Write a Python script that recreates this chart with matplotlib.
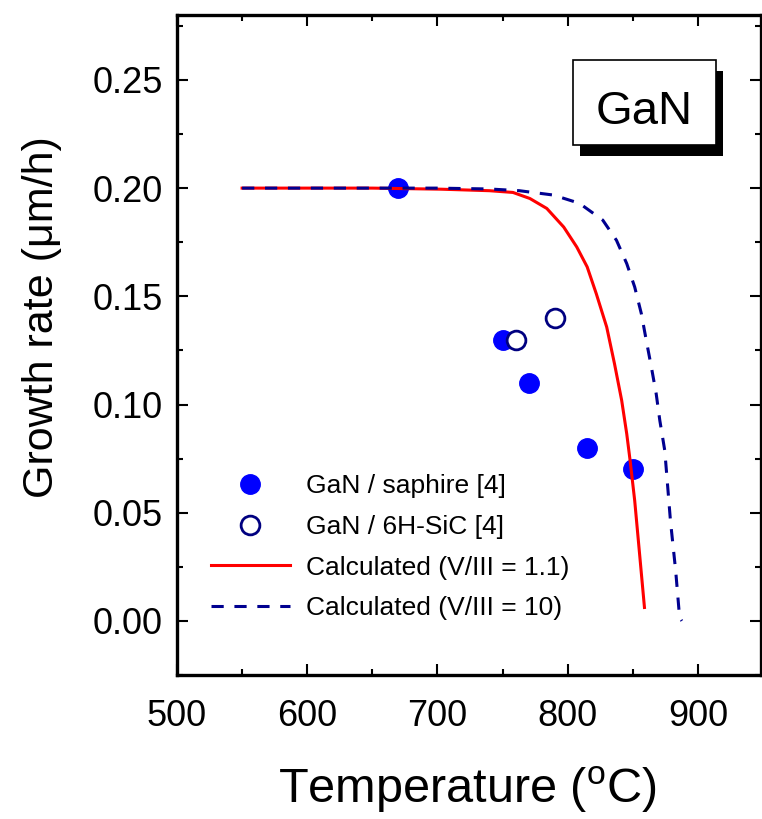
import numpy as np
import matplotlib
matplotlib.use("Agg")
import matplotlib.pyplot as plt
from matplotlib.ticker import MultipleLocator
from matplotlib.patches import Rectangle

plt.rcParams['font.family'] = ['Liberation Sans', 'DejaVu Sans']
plt.rcParams['mathtext.fontset'] = 'custom'
plt.rcParams['mathtext.rm'] = 'Liberation Sans'
plt.rcParams['mathtext.it'] = 'Liberation Sans:italic'

# measured points
sapphire_T = [670, 750, 770, 815, 850]
sapphire_rate = [0.200, 0.130, 0.110, 0.080, 0.070]
sic_T = [760, 790]
sic_rate = [0.130, 0.140]

# calculated curves
calc11_T = [550, 600, 650, 703, 740, 758, 771, 784, 797, 807, 815, 822, 830,
            836, 841.5, 845.4, 848, 851.5, 855.5, 859]
calc11_rate = [0.200, 0.200, 0.200, 0.1995, 0.1988, 0.198, 0.1952, 0.1906,
               0.182, 0.1728, 0.1636, 0.1512, 0.1358, 0.1188, 0.1019, 0.0864,
               0.074, 0.0556, 0.0293, 0.0062]
calc10_T = [550, 600, 650, 700, 740, 763, 789, 809, 827, 837.5, 845.4, 851.5,
            856.6, 860.4, 864.3, 868, 870.8, 874.6, 879, 883, 886, 887.7]
calc10_rate = [0.200, 0.200, 0.200, 0.200, 0.1996, 0.1988, 0.1968, 0.193,
               0.1852, 0.1759, 0.1651, 0.1543, 0.142, 0.1296, 0.1173, 0.105,
               0.0926, 0.0787, 0.046, 0.023, 0.0015, 0.0]

fig = plt.figure(figsize=(7.62, 8.19), dpi=100)
ax = fig.add_axes([177 / 762, 144 / 819, 584 / 762, 660 / 819])

ax.plot(sapphire_T, sapphire_rate, 'o', color='#0000ff', markersize=14,
        label='GaN / saphire [4]', zorder=2)
ax.plot(sic_T, sic_rate, 'o', markerfacecolor='white', markeredgecolor='#000080',
        markeredgewidth=2, markersize=13.5, label='GaN / 6H-SiC [4]', zorder=2.5)
ax.plot(calc11_T, calc11_rate, '-', color='#ff0000', linewidth=2.2,
        label='Calculated (V/III = 1.1)', zorder=3)
ax.plot(calc10_T, calc10_rate, '--', color='#000090', linewidth=2.2,
        dashes=(4, 3.5), label='Calculated (V/III = 10)', zorder=3.5)

ax.set_xlim(500, 948.5)
ax.set_ylim(-0.025, 0.28)
ax.xaxis.set_major_locator(MultipleLocator(100))
ax.xaxis.set_minor_locator(MultipleLocator(50))
ax.yaxis.set_major_locator(MultipleLocator(0.05))
ax.yaxis.set_minor_locator(MultipleLocator(0.025))
ax.yaxis.set_major_formatter(plt.FormatStrFormatter('%.2f'))
ax.tick_params(which='both', direction='in', top=True, right=True, width=1.5,
               labelsize=26)
ax.tick_params(which='major', length=8)
ax.tick_params(which='minor', length=4.5)
ax.tick_params(axis='y', which='major', pad=10)
ax.tick_params(axis='x', which='major', pad=17)
for s in ax.spines.values():
    s.set_linewidth(2.4)

ax.set_xlabel(r'Temperature ($^{\mathrm{o}}$C)', fontsize=35)
ax.xaxis.set_label_coords(0.497, -0.136)
ax.set_ylabel('Growth rate (\u03bcm/h)', fontsize=31)
ax.yaxis.set_label_coords(-0.197, 0.542)

# GaN label box with shadow
ax.add_patch(Rectangle((0.690, 0.786), 0.245, 0.129, transform=ax.transAxes,
                       facecolor='black', edgecolor='none', zorder=4))
ax.add_patch(Rectangle((0.678, 0.803), 0.245, 0.129, transform=ax.transAxes,
                       facecolor='white', edgecolor='black', linewidth=1.2, zorder=5))
ax.text(0.800, 0.835, 'GaN', transform=ax.transAxes, fontsize=34,
        ha='center', va='baseline', zorder=6)

ax.legend(loc='lower left', bbox_to_anchor=(0.058, 0.083), frameon=False,
          fontsize=19, handlelength=3.0, labelspacing=0.63, handletextpad=0.6,
          borderaxespad=0, borderpad=0)

fig.savefig('out.png', dpi=100)
